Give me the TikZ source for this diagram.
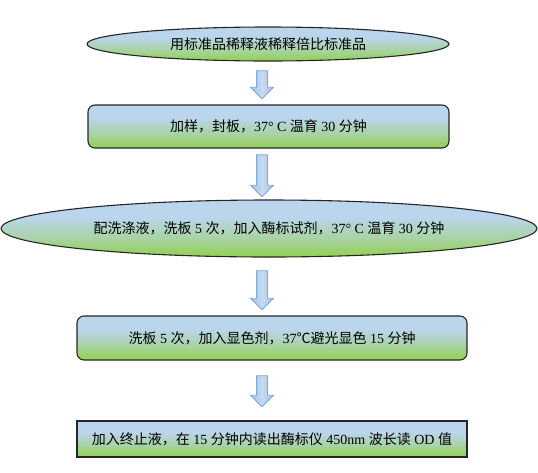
\documentclass[tikz,border=0pt]{standalone}
\usepackage{fontspec}
\setmainfont{Liberation Serif}
\newfontfamily\cjk{Noto Sans CJK SC}
\usepackage{tikz}
\usetikzlibrary{shapes.geometric,shapes.arrows}
\definecolor{SkyTop}{HTML}{BBD5EC}
\definecolor{LeafBot}{HTML}{92D050}
\definecolor{ArrFill}{HTML}{A3C2E6}
\definecolor{ArrLight}{HTML}{C8DBF1}
\definecolor{ArrLine}{HTML}{7FA7D7}
\newdimen\px \px=0.75pt
\pgfdeclareverticalshading{stageshade}{100bp}{color(0bp)=(LeafBot); color(25bp)=(LeafBot); color(42bp)=(SkyTop!55!LeafBot); color(60bp)=(SkyTop); color(100bp)=(SkyTop)}

\begin{document}
\begin{tikzpicture}[
  x=\px,y=-\px,
  stage/.style={draw=black!85,line width=1.1\px,shading=stageshade,inner sep=0pt,font=\fontsize{10.5}{12}\selectfont},
  oval/.style={stage,ellipse},
  roundbox/.style={stage,rectangle,rounded corners=7\px},
  plainbox/.style={stage,rectangle},
  downarrow/.style={single arrow,shape border rotate=270,draw=ArrLine,line width=0.8\px,left color=ArrFill,right color=ArrFill,middle color=ArrLight,inner sep=5\px,single arrow head extend=6\px,single arrow head indent=0pt}
]
\useasboundingbox (0,0) rectangle (538,472);
\node[oval,minimum width=362\px,minimum height=34\px] (dilute) at (268,44) {{\cjk 用标准品稀释液稀释倍比标准品}};
\node[roundbox,minimum width=361\px,minimum height=43\px] (sample) at (268.5,126.5) {{\cjk 加样，封板，}37° C {\cjk 温育} 30 {\cjk 分钟}};
\node[oval,minimum width=536\px,minimum height=57\px] (wash) at (269,228.5) {{\cjk 配洗涤液，洗板} 5 {\cjk 次，加入酶标试剂，}37° C {\cjk 温育} 30 {\cjk 分钟}};
\node[roundbox,minimum width=390\px,minimum height=44\px] (develop) at (272,338) {{\cjk 洗板} 5 {\cjk 次，加入显色剂，}37{\cjk ℃避光显色} 15 {\cjk 分钟}};
\node[plainbox,minimum width=390\px,minimum height=36\px] (stop) at (272,439) {{\cjk 加入终止液，在} 15 {\cjk 分钟内读出酶标仪} 450nm {\cjk 波长读} OD {\cjk 值}};
% block arrows between the steps
\node[downarrow,minimum height=28\px] (arr1) at (262,82) {};
\node[downarrow,minimum height=42\px] (arr2) at (262,173) {};
\node[downarrow,minimum height=39\px] (arr3) at (262,287.5) {};
\node[downarrow,minimum height=31\px] (arr4) at (262,388.5) {};
\end{tikzpicture}
\end{document}
